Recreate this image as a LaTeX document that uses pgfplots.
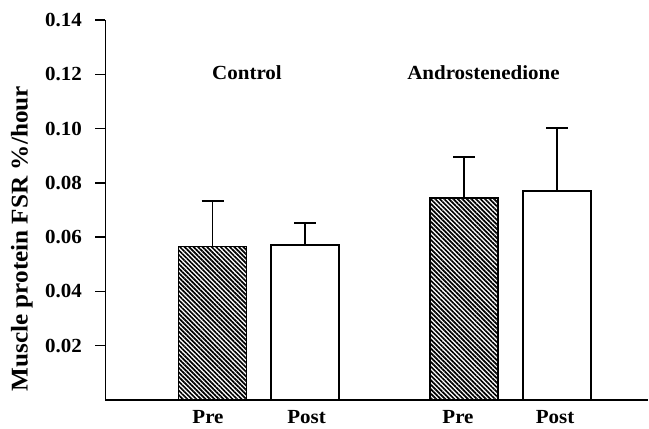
\documentclass[border=0pt]{standalone}
\usepackage{pgfplots}
\pgfplotsset{compat=1.18}
\usepackage{fontspec}
\setmainfont{Liberation Serif}[FakeStretch=1.05]
\usetikzlibrary{patterns.meta}
\begin{document}
\begin{tikzpicture}[x=1pt,y=1pt]
\path[use as bounding box] (0,0) rectangle (649,429);
\begin{axis}[
  at={(105.5pt,29pt)}, anchor=south west,
  scale only axis, width=542.5pt, height=380pt,
  xmin=105.5, xmax=648, ymin=0, ymax=0.14,
  axis x line=bottom, axis y line=left,
  axis line style={-, line width=1.5pt},
  ytick={0.02,0.04,0.06,0.08,0.10,0.12,0.14},
  /pgf/number format/fixed, /pgf/number format/fixed zerofill, /pgf/number format/precision=2,
  /pgf/number format/assume math mode=true,
  yticklabel style={font=\fontsize{20}{24}\selectfont\bfseries, xshift=-10pt},
  xtick={208,306.5,458,555},
  xticklabels={Pre,Post,Pre,Post},
  xticklabel style={font=\fontsize{20}{24}\selectfont\bfseries, anchor=base, inner sep=0pt, yshift=-13pt},
  x tick style={draw=none},
  y tick style={line width=1.5pt, black},
  tick align=outside,
  major tick length=10pt,
  ylabel={Muscle protein FSR \%/hour},
  ylabel style={font=\fontsize{24}{28}\selectfont\bfseries, at={(axis description cs:-0.154,0.424)}, anchor=center, rotate=0},
  clip=false,
]
\addplot[ybar, bar width=68, bar shift=0pt, draw=black, line width=1.6pt,
  pattern={Lines[angle=-45, distance=3.2pt, line width=1.7pt]}, pattern color=black,
  error bars/.cd, y dir=plus, y explicit,
  error bar style={line width=1.8pt, black},
  error mark options={rotate=90, line width=1.8pt, mark size=11pt, black}]
  coordinates {(212.5,0.0565) +- (0,0.0168) (464,0.0745) +- (0,0.015)};
\addplot[ybar, bar width=68, bar shift=0pt, draw=black, fill=white, line width=1.6pt,
  error bars/.cd, y dir=plus, y explicit,
  error bar style={line width=1.8pt, black},
  error mark options={rotate=90, line width=1.8pt, mark size=11pt, black}]
  coordinates {(305,0.057) +- (0,0.0082) (557,0.077) +- (0,0.0232)};
\node[anchor=base, font=\fontsize{20}{24}\selectfont\bfseries] at (axis cs:247,0.1179) {Control};
\node[anchor=base, font=\fontsize{20}{24}\selectfont\bfseries] at (axis cs:483.5,0.1179) {Androstenedione};
\end{axis}
\end{tikzpicture}
\end{document}
